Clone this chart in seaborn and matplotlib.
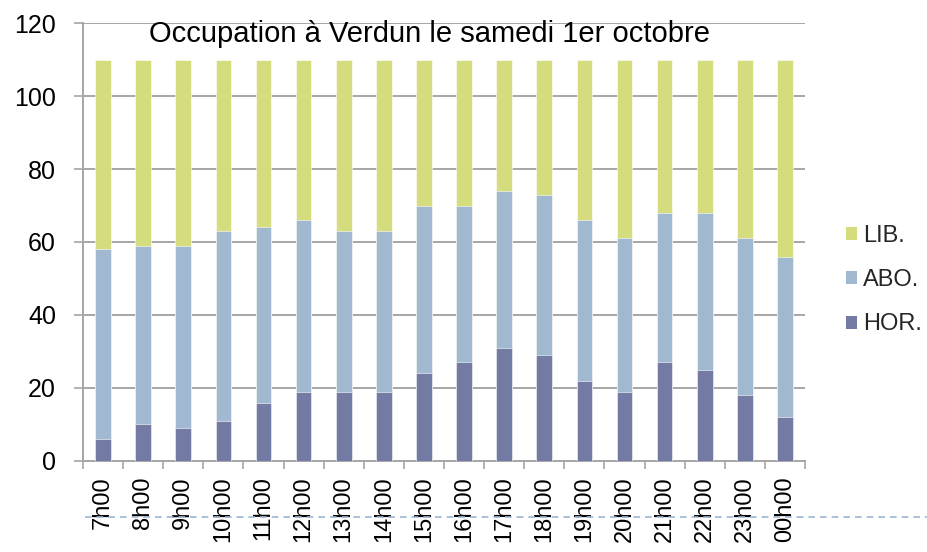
import matplotlib
matplotlib.use("Agg")
import matplotlib.pyplot as plt
import seaborn as sns
import pandas as pd
from matplotlib.patches import Patch
from matplotlib.lines import Line2D

hours = ["7h00", "8h00", "9h00", "10h00", "11h00", "12h00", "13h00", "14h00", "15h00",
         "16h00", "17h00", "18h00", "19h00", "20h00", "21h00", "22h00", "23h00", "00h00"]
hor = [6, 10, 9, 11, 16, 19, 19, 19, 24, 27, 31, 29, 22, 19, 27, 25, 18, 12]
abo = [52, 49, 50, 52, 48, 47, 44, 44, 46, 43, 43, 44, 44, 42, 41, 43, 43, 44]
lib = [52, 51, 51, 47, 46, 44, 47, 47, 40, 40, 36, 37, 44, 49, 42, 42, 49, 54]
title = "Occupation à Verdun le samedi 1er octobre"
yticks = [0, 20, 40, 60, 80, 100, 120]

c_hor = "#737aa3"
c_abo = "#a0b9d1"
c_lib = "#d5dc7d"

sns.set_theme(style="white")
plt.rcParams["font.family"] = ["Liberation Sans", "DejaVu Sans"]

df = pd.DataFrame({"hour": hours, "HOR": hor, "ABO": abo, "LIB": lib})
df["c_abo"] = df["HOR"] + df["ABO"]
df["c_lib"] = df["c_abo"] + df["LIB"]

fig = plt.figure(figsize=(9.28, 5.52), dpi=100)
ax = fig.add_axes([0.0894, 0.1649, 0.7781, 0.7934])

for col, color in [("c_lib", c_lib), ("c_abo", c_abo), ("HOR", c_hor)]:
    sns.barplot(data=df, x="hour", y=col, color=color, width=0.39, ax=ax,
                saturation=1, edgecolor="white", linewidth=0.4, zorder=3)

ax.set_ylim(0, 120)
ax.set_xlim(-0.5, len(hours) - 0.5)
ax.set_yticks(yticks)
ax.set_xlabel("")
ax.set_ylabel("")
ax.yaxis.grid(True, color="#a6a6a6", linewidth=1.4, zorder=0)
ax.set_axisbelow(True)
for s in ["top", "right"]:
    ax.spines[s].set_visible(False)
for s in ["left", "bottom"]:
    ax.spines[s].set_color("#a6a6a6")
    ax.spines[s].set_linewidth(1.4)

ax.tick_params(axis="y", labelsize=18, length=6.5, width=1.2, color="#a6a6a6",
               direction="out", pad=13, labelcolor="black", left=True)
ax.set_xticks(range(len(hours)))
ax.set_xticklabels(hours, rotation=90, fontsize=17)
ax.tick_params(axis="x", length=0, pad=11, labelcolor="black")
ax.set_xticks([i - 0.5 for i in range(len(hours) + 1)], minor=True)
ax.tick_params(axis="x", which="minor", length=6, width=1.2, color="#a6a6a6",
               direction="out", bottom=True)

fig.text(430 / 928, 1 - 42 / 552, title, ha="center", va="baseline",
         fontsize=21, color="black")

handles = [Patch(facecolor=c_lib, edgecolor="none", label="LIB."),
           Patch(facecolor=c_abo, edgecolor="none", label="ABO."),
           Patch(facecolor=c_hor, edgecolor="none", label="HOR.")]
fig.legend(handles=handles, loc="center left", bbox_to_anchor=(0.9116, 0.4928),
           frameon=False, fontsize=17, handlelength=0.47, handleheight=0.47,
           handletextpad=0.25, labelspacing=0.95, borderaxespad=0, borderpad=0)

fig.add_artist(Line2D([0.092, 1.0], [1 - 517 / 552, 1 - 517 / 552],
                      transform=fig.transFigure, color="#9db6d3",
                      linestyle=(0, (4, 3)), linewidth=1.2))

fig.savefig("out.png", dpi=100)
